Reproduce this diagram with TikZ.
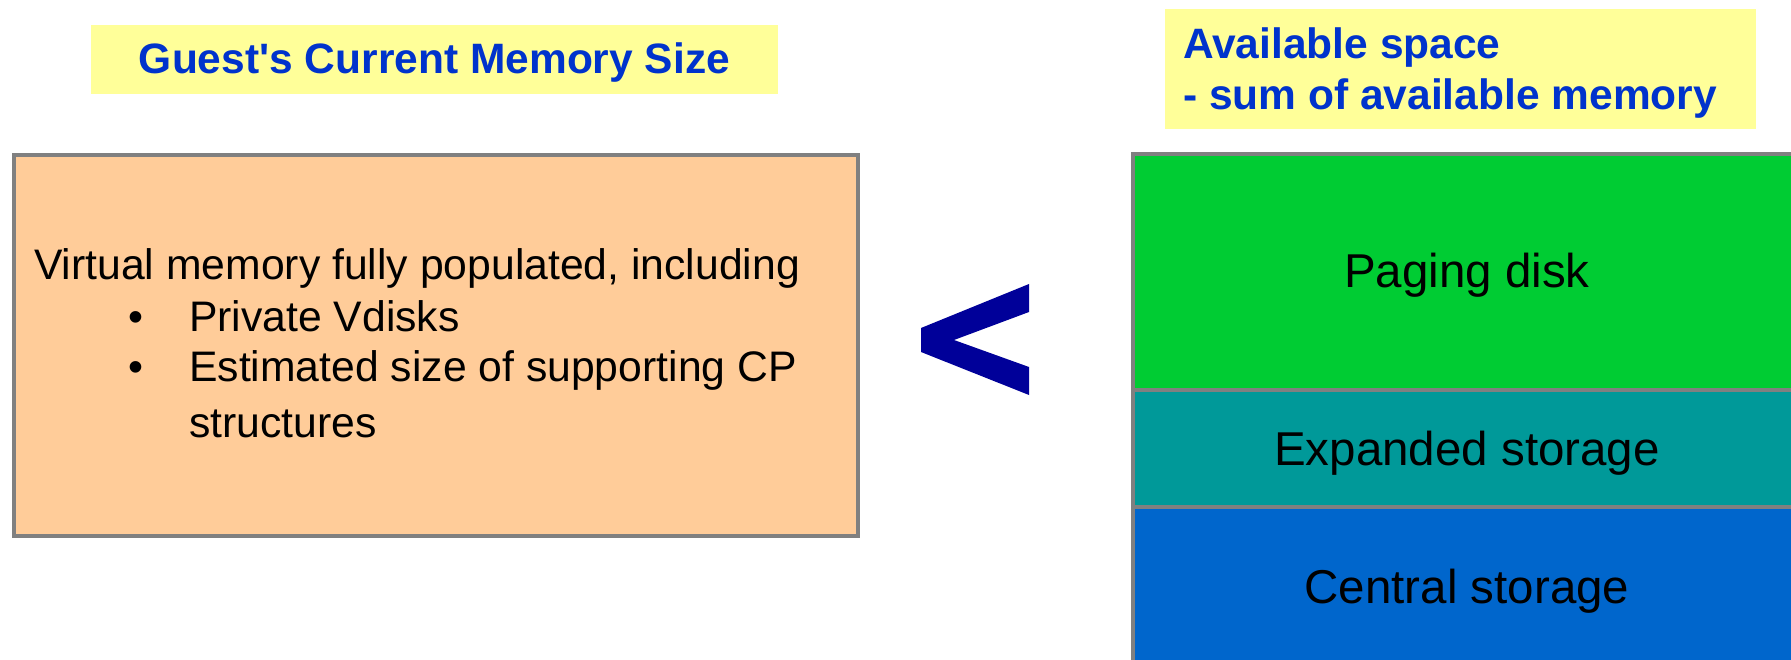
\documentclass[tikz,border=0pt]{standalone}
\usepackage{fontspec}
\setmainfont{Liberation Sans}[Ligatures=TeXOff]
\definecolor{hlyellow}{HTML}{FFFF99}
\definecolor{titleblue}{HTML}{0033CC}
\definecolor{boxorange}{HTML}{FFCC99}
\definecolor{edgegray}{HTML}{808080}
\definecolor{ltblue}{HTML}{000099}
\definecolor{pgreen}{HTML}{00CC33}
\definecolor{pteal}{HTML}{009999}
\definecolor{pblue}{HTML}{0066CC}
\begin{document}
\begin{tikzpicture}[x=1pt,y=-1pt,
  hlbox/.style={fill=hlyellow,draw=none,inner sep=0pt,anchor=north west},
  titletext/.style={text=titleblue,font=\fontsize{42.5}{51}\selectfont\bfseries,inner sep=0pt},
  bodytext/.style={text=black,font=\fontsize{42.7}{52}\selectfont,inner sep=0pt,anchor=base west},
  layertext/.style={text=black,font=\fontsize{47.5}{57}\selectfont,inner sep=0pt,anchor=base},
  framed/.style={draw=edgegray,line width=4pt,inner sep=0pt,anchor=north west}]
\useasboundingbox (0,0) rectangle (1791,660);
% left title
\node[hlbox,minimum width=687pt,minimum height=69pt] (lt) at (91,25) {};
\node[titletext,anchor=base] (ltt) at (434.5,74) {Guest's Current Memory Size};
% right title
\node[hlbox,minimum width=591pt,minimum height=120pt] (rt) at (1165,9) {};
\node[titletext,anchor=base west] (rtt1) at (1183,59) {Available space};
\node[titletext,anchor=base west] (rtt2) at (1183,110) {- sum of available memory};
% orange box
\node[framed,fill=boxorange,minimum width=844pt,minimum height=381pt] (vm) at (12,153) {};
\node[bodytext] (l1) at (34,280) {Virtual memory fully populated, including};
\node[bodytext] (b1) at (128,331) {\textbullet};
\node[bodytext] (l2) at (189,331) {Private Vdisks};
\node[bodytext] (b2) at (128,381) {\textbullet};
\node[bodytext] (l3) at (189,381) {Estimated size of supporting CP};
\node[bodytext] (l4) at (189,437) {structures};
% less-than sign
\fill[ltblue] (1029,284) -- (1029,312) -- (954,340) -- (1029,367) -- (1029,395) -- (921,352) -- (921,328) -- cycle;
% stacked storage
\begin{scope}
\clip (0,0) rectangle (1791,660);
\node[framed,fill=pgreen,minimum width=672pt,minimum height=236pt] (pd) at (1131,152) {};
\node[framed,fill=pteal,minimum width=672pt,minimum height=117pt] (es) at (1131,388) {};
\node[framed,fill=pblue,minimum width=672pt,minimum height=180pt] (cs) at (1131,505) {};
\end{scope}
\node[layertext] (pdt) at (1467,288) {Paging disk};
\node[layertext] (est) at (1467,465) {Expanded storage};
\node[layertext] (cst) at (1467,603) {Central storage};
\end{tikzpicture}
\end{document}
